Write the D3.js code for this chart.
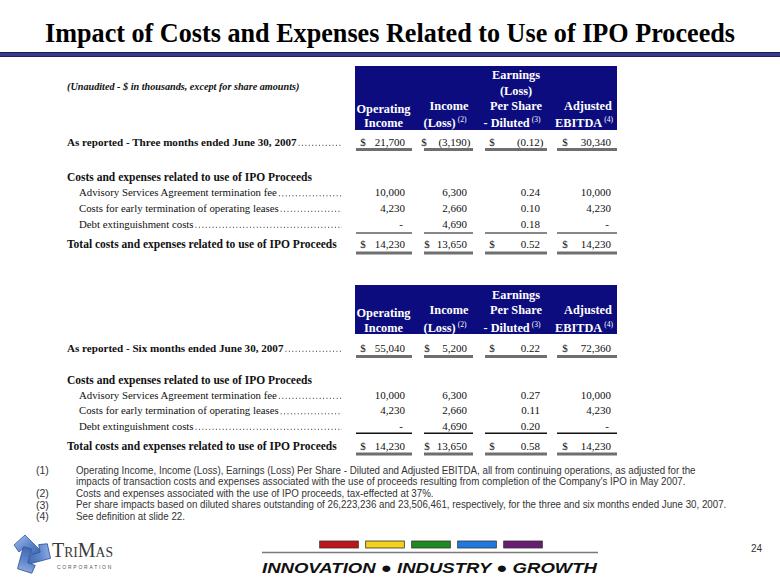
<!DOCTYPE html>
<html><head><meta charset="utf-8">
<script src="https://cdn.jsdelivr.net/npm/d3@7"></script>
<style>body{margin:0;background:#fff}svg{display:block}</style>
</head><body>
<svg id="c" width="780" height="587"></svg>
<script>
// ---------- DATA ----------
const title = "Impact of Costs and Expenses Related to Use of IPO Proceeds";
const subtitle = "(Unaudited - $ in thousands, except for share amounts)";
const columns = ["Operating Income", "Income (Loss)", "Earnings (Loss) Per Share - Diluted", "Adjusted EBITDA"];
const headerLines3 = [["Operating", "Income"], ["Income", "(Loss)|(2)"], ["Earnings", "(Loss)", "Per Share", "- Diluted|(3)"], ["Adjusted", "EBITDA|(4)"]];
const headerLines6 = [["Operating", "Income"], ["Income", "(Loss)|(2)"], ["Earnings", "Per Share", "- Diluted|(3)"], ["Adjusted", "EBITDA|(4)"]];
const rowLabels3 = ["As reported - Three months ended June 30, 2007", "Costs and expenses related to use of IPO Proceeds",
  "Advisory Services Agreement termination fee", "Costs for early termination of operating leases",
  "Debt extinguishment costs", "Total costs and expenses related to use of IPO Proceeds"];
const rowLabels6 = ["As reported - Six months ended June 30, 2007", "Costs and expenses related to use of IPO Proceeds",
  "Advisory Services Agreement termination fee", "Costs for early termination of operating leases",
  "Debt extinguishment costs", "Total costs and expenses related to use of IPO Proceeds"];
const reported3 = [21700, -3190, -0.12, 30340];
const advisoryFee3 = [10000, 6300, 0.24, 10000];
const leaseCosts3 = [4230, 2660, 0.10, 4230];
const debtCosts3 = [0, 4690, 0.18, 0];
const total3 = [14230, 13650, 0.52, 14230];
const reported6 = [55040, 5200, 0.22, 72360];
const advisoryFee6 = [10000, 6300, 0.27, 10000];
const leaseCosts6 = [4230, 2660, 0.11, 4230];
const debtCosts6 = [0, 4690, 0.20, 0];
const total6 = [14230, 13650, 0.58, 14230];
const footnoteMarks = ["(1)", "", "(2)", "(3)", "(4)"];
const footnotes = [
  "Operating Income, Income (Loss), Earnings (Loss) Per Share - Diluted and Adjusted EBITDA, all from continuing operations, as adjusted for the",
  "impacts of transaction costs and expenses associated with the use of proceeds resulting from completion of the Company's IPO in May 2007.",
  "Costs and expenses associated with the use of IPO proceeds, tax-effected at 37%.",
  "Per share impacts based on diluted shares outstanding of 26,223,236 and 23,506,461, respectively, for the three and six months ended June 30, 2007.",
  "See definition at slide 22."
];
const slogan = "INNOVATION  \u25CF  INDUSTRY  \u25CF  GROWTH";
const barColors = ["#c0141b", "#f4d21c", "#1f8a22", "#1f7ae0", "#6a1c74"];
const pageNumber = "24";

// ---------- LAYOUT ----------
const svg = d3.select("#c");
const serif = "'Liberation Serif','Times New Roman',serif";
const sans = "'Liberation Sans',Arial,sans-serif";

const colIdx = d3.range(columns.length);
const colLeft = d3.scaleOrdinal().domain(colIdx).range([356, 424, 485, 557]);
const colRight = d3.scaleOrdinal().domain(colIdx).range([412, 473, 547, 617]);
const colCenter = d3.scaleOrdinal().domain(colIdx).range([383.5, 449, 516, 588]);
const numRight = d3.scaleOrdinal().domain(colIdx).range([405, 467, 540, 611]);
const dollarX = d3.scaleOrdinal().domain(colIdx).range([363, 424, 492, 565]);

// title
svg.append("text").attr("transform", "translate(390,42) scale(1,1.16)").attr("text-anchor", "middle")
  .attr("font-family", serif).attr("font-weight", "bold").attr("font-size", 24)
  .attr("textLength", 690).attr("lengthAdjust", "spacingAndGlyphs").attr("fill", "#000").text(title);
svg.append("rect").attr("x", 0).attr("y", 52).attr("width", 780).attr("height", 5).attr("fill", "#3b3b8e");
svg.append("rect").attr("x", 0).attr("y", 52).attr("width", 780).attr("height", 1).attr("fill", "#1c1c55");
svg.append("rect").attr("x", 0).attr("y", 56).attr("width", 780).attr("height", 1).attr("fill", "#23235e");

svg.append("text").attr("x", 67).attr("y", 90).attr("font-family", serif).attr("font-weight", "bold")
  .attr("font-style", "italic").attr("font-size", 10.2).attr("fill", "#111").text(subtitle);

const fmtInt = d3.format(",");
const fmtDec = d3.format(".2f");
function fmt(v, c) {
  if (v === 0) return "-";
  const s = c === 2 ? fmtDec(Math.abs(v)) : fmtInt(Math.abs(v));
  return v < 0 ? "(" + s + ")" : s;
}

function drawTable(cfg) {
  const g = svg.append("g");
  g.append("rect").attr("x", 355).attr("y", cfg.boxTop).attr("width", 262)
    .attr("height", cfg.boxBottom - cfg.boxTop).attr("fill", "#0c0c7e");
  cfg.headers.forEach((lines, c) => {
    const n = lines.length;
    lines.forEach((ln, i) => {
      const fromBottom = n - 1 - i;
      let y = cfg.headerBase[fromBottom];
      if (c === 0 && fromBottom === 1) y += 3;
      const parts = ln.split("|");
      const t = g.append("text").attr("x", colCenter(c) - (parts[1] ? 4 : 0)).attr("y", y)
        .attr("text-anchor", "middle").attr("font-family", serif).attr("font-weight", "bold")
        .attr("font-size", 12.3).attr("fill", "#fff");
      t.append("tspan").text(parts[0]);
      if (parts[1]) {
        t.append("tspan").attr("dx", 2).attr("dy", -5).attr("font-size", 7.5).attr("font-weight", "normal").text(parts[1]);
      }
    });
  });
  const rowsData = [
    { label: cfg.labels[0], vals: cfg.rows[0], bold: true, x: 67, dots: true, dollar: true },
    { label: cfg.labels[1], vals: null, bold: true, x: 67, dots: false },
    { label: cfg.labels[2], vals: cfg.rows[1], bold: false, x: 79, dots: true },
    { label: cfg.labels[3], vals: cfg.rows[2], bold: false, x: 79, dots: true },
    { label: cfg.labels[4], vals: cfg.rows[3], bold: false, x: 79, dots: true },
    { label: cfg.labels[5], vals: cfg.rows[4], bold: true, x: 67, dots: false, dollar: true }
  ];
  const rowY = d3.scaleOrdinal().domain(d3.range(6)).range(cfg.rowY);
  rowsData.forEach((r, i) => {
    const y = rowY(i) + 3.8;
    const lt = g.append("text").attr("x", r.x).attr("y", y).attr("font-family", serif)
      .attr("font-weight", r.bold ? "bold" : "normal").attr("font-size", r.bold ? (i === 0 ? 11.1 : 11.5) : 10.8)
      .attr("fill", "#111").text(r.label);
    if (r.dots) {
      const w = lt.node().getComputedTextLength();
      g.append("line").attr("x1", r.x + w + 2).attr("x2", 342).attr("y1", y - 0.5).attr("y2", y - 0.5)
        .attr("stroke", "#333").attr("stroke-width", 1).attr("stroke-dasharray", "1,2.4");
    }
    if (r.vals) {
      r.vals.forEach((v, c) => {
        const xr = numRight(c) + (v < 0 ? 3.5 : v === 0 ? -2 : 0);
        g.append("text").attr("x", xr).attr("y", y).attr("text-anchor", "end")
          .attr("font-family", serif).attr("font-size", 11).attr("fill", "#111").text(fmt(v, c));
        if (r.dollar) {
          g.append("text").attr("x", dollarX(c) + (c === 1 && v > 0 ? 3 : 0)).attr("y", y).attr("text-anchor", "middle")
            .attr("font-family", serif).attr("font-size", 11).attr("fill", "#111").text("$");
        }
      });
    }
  });
  colIdx.forEach(c => {
    [cfg.dbl1, cfg.dbl2].forEach(yy => {
      g.append("rect").attr("x", colLeft(c)).attr("y", yy).attr("width", colRight(c) - colLeft(c))
        .attr("height", 3).attr("fill", "#6f6f6f");
    });
    g.append("rect").attr("x", colLeft(c)).attr("y", cfg.single).attr("width", colRight(c) - colLeft(c))
      .attr("height", cfg.singleH).attr("fill", "#111");
  });
}

drawTable({
  boxTop: 66, boxBottom: 130, headers: headerLines3, headerBase: [126.5, 110, 95, 79],
  labels: rowLabels3, rows: [reported3, advisoryFee3, leaseCosts3, debtCosts3, total3],
  rowY: [142, 177, 192.5, 208, 224, 244], dbl1: 148, dbl2: 251.5, single: 232.5, singleH: 1
});
drawTable({
  boxTop: 285, boxBottom: 334, headers: headerLines6, headerBase: [332, 314, 299],
  labels: rowLabels6, rows: [reported6, advisoryFee6, leaseCosts6, debtCosts6, total6],
  rowY: [348, 380, 395, 410.5, 426, 446], dbl1: 355, dbl2: 452.5, single: 432.5, singleH: 1.5
});

// footnotes
const fy = d3.scaleOrdinal().domain(d3.range(5)).range([474, 485.5, 497, 508.5, 520]);
const fg = svg.append("g");
footnoteMarks.forEach((m, i) => {
  if (m) fg.append("text").attr("x", 36).attr("y", fy(i)).attr("font-family", sans).attr("font-size", 10.5)
    .attr("fill", "#333").text(m);
});
const fgt = svg.append("g");
const ftexts = footnotes.map((t, i) => fgt.append("text").attr("x", 0).attr("y", fy(i))
  .attr("font-family", sans).attr("font-size", 10.8).attr("fill", "#333").text(t));
const wLong = ftexts[3].node().getComputedTextLength();
fgt.attr("transform", `translate(76,0) scale(${651 / wLong},1)`);

// footer: color bars
const barX = d3.scaleBand().domain(d3.range(barColors.length)).range([316, 546]).paddingInner(0.16).paddingOuter(0.08);
svg.selectAll("rect.bar").data(barColors).join("rect").attr("class", "bar")
  .attr("x", (d, i) => barX(i)).attr("y", 541).attr("width", barX.bandwidth()).attr("height", 7)
  .attr("fill", d => d).attr("stroke", "#333").attr("stroke-width", 0.8);
svg.append("line").attr("x1", 262).attr("x2", 598).attr("y1", 552.5).attr("y2", 552.5)
  .attr("stroke", "#7a7a7a").attr("stroke-width", 1.5);
svg.append("text").attr("x", 262).attr("y", 573).attr("font-family", sans).attr("font-weight", "bold")
  .attr("font-style", "italic").attr("font-size", 15).attr("textLength", 335).attr("lengthAdjust", "spacingAndGlyphs")
  .attr("fill", "#111").text(slogan);
svg.append("text").attr("x", 762).attr("y", 552).attr("text-anchor", "end").attr("font-family", sans)
  .attr("font-size", 10).attr("fill", "#333").text(pageNumber);

// logo
const defs = svg.append("defs");
const grad = defs.append("linearGradient").attr("id", "lg").attr("x1", 0).attr("y1", 0).attr("x2", 1).attr("y2", 1);
grad.append("stop").attr("offset", 0).attr("stop-color", "#a9c3ec");
grad.append("stop").attr("offset", 0.5).attr("stop-color", "#5f86cc");
grad.append("stop").attr("offset", 1).attr("stop-color", "#3a5fa8");
const lg = svg.append("g").attr("transform", "translate(31,554)");
[0, 120, 240].forEach(a => {
  lg.append("path").attr("transform", `rotate(${a})`)
    .attr("d", "M-17,-9 L-6,-19 L10,-3 L4,3 L-6,-7 L-12,-2 Z")
    .attr("fill", "url(#lg)").attr("stroke", "#34569a").attr("stroke-width", 0.8);
});
svg.append("text").attr("x", 52).attr("y", 557).attr("font-family", serif).attr("fill", "#3a3a3a")
  .attr("font-size", 22).attr("font-variant", "small-caps")
  .attr("textLength", 61).attr("lengthAdjust", "spacingAndGlyphs").text("TriMas");
svg.append("text").attr("x", 57).attr("y", 569).attr("font-family", sans).attr("font-size", 5)
  .attr("letter-spacing", 1.75).attr("fill", "#555").text("CORPORATION");
</script>
</body></html>
